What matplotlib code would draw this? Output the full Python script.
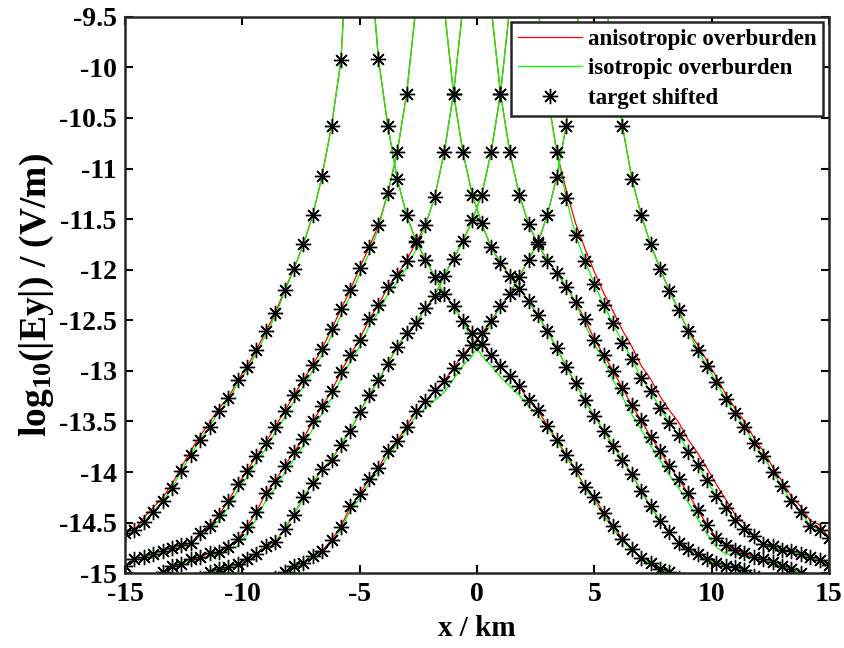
import numpy as np
import matplotlib
matplotlib.use("Agg")
import matplotlib.pyplot as plt

plt.rcParams['font.family'] = ['Liberation Serif', 'DejaVu Serif']
plt.rcParams['font.weight'] = 'bold'
plt.rcParams['mathtext.fontset'] = 'custom'
plt.rcParams['mathtext.rm'] = 'Liberation Serif:bold'
plt.rcParams['mathtext.it'] = 'Liberation Serif:bold'
plt.rcParams['mathtext.bf'] = 'Liberation Serif:bold'

nan = float('nan')

# ==== DATA (log10 |Ey|, sampled every 0.4 km) ====
x_km = [-15.0, -14.6, -14.2, -13.8, -13.4, -13.0, -12.6, -12.2, -11.8, -11.4,
        -11.0, -10.6, -10.2, -9.8, -9.4, -9.0, -8.6, -8.2, -7.8, -7.4,
        -7.0, -6.6, -6.2, -5.8, -5.4, -5.0, -4.6, -4.2, -3.8, -3.4,
        -3.0, -2.6, -2.2, -1.8, -1.4, -1.0, -0.6, -0.2, 0.2, 0.6,
        1.0, 1.4, 1.8, 2.2, 2.6, 3.0, 3.4, 3.8, 4.2, 4.6,
        5.0, 5.4, 5.8, 6.2, 6.6, 7.0, 7.4, 7.8, 8.2, 8.6,
        9.0, 9.4, 9.8, 10.2, 10.6, 11.0, 11.4, 11.8, 12.2, 12.6,
        13.0, 13.4, 13.8, 14.2, 14.6, 15.0]

# source at -5 km
star_1 = [-14.60, -14.57, -14.49, -14.39, -14.29, -14.16, -13.99, -13.83, -13.68, -13.55,
          -13.40, -13.27, -13.09, -12.96, -12.79, -12.61, -12.43, -12.20, -11.99, -11.75,
          -11.46, -11.07, -10.58, -9.93, -8.30, -8.00, -8.80, -9.92, -10.58, -11.10,
          -11.46, -11.72, -11.90, -12.07, -12.24, -12.36, -12.51, -12.63, -12.73, -12.84,
          -12.95, -13.05, -13.15, -13.29, -13.39, -13.54, -13.68, -13.83, -13.97, -14.15,
          -14.25, -14.40, -14.53, -14.66, -14.76, -14.85, -14.90, -14.96, -14.99, -15.05,
          nan, nan, nan, nan, nan, nan, nan, nan, nan, nan,
          nan, nan, nan, nan, nan, nan]
aniso_1 = [-14.60, -14.57, -14.45, -14.35, -14.25, -14.12, -13.95, -13.79, -13.64, -13.51,
           -13.37, -13.27, -13.09, -12.96, -12.79, -12.61, -12.43, -12.20, -11.99, -11.75,
           -11.46, -11.07, -10.58, -9.93, -8.30, -8.00, -8.80, -9.92, -10.58, -11.10,
           -11.46, -11.72, -11.90, -12.07, -12.24, -12.36, -12.51, -12.63, -12.73, -12.84,
           -12.95, -13.05, -13.15, -13.29, -13.39, -13.54, -13.68, -13.83, -13.97, -14.15,
           -14.25, -14.40, -14.53, -14.66, -14.76, -14.85, -14.90, -14.96, -14.99, -15.05,
           nan, nan, nan, nan, nan, nan, nan, nan, nan, nan,
           nan, nan, nan, nan, nan, nan]
iso_1 = [-14.60, -14.57, -14.49, -14.39, -14.29, -14.16, -13.99, -13.83, -13.68, -13.55,
         -13.40, -13.30, -13.12, -12.99, -12.82, -12.64, -12.46, -12.22, -11.99, -11.75,
         -11.46, -11.07, -10.58, -9.93, -8.30, -8.00, -8.80, -9.92, -10.58, -11.10,
         -11.46, -11.72, -11.90, -12.07, -12.24, -12.36, -12.51, -12.70, -12.85, -12.95,
         -13.06, -13.15, -13.24, -13.35, -13.44, -13.56, -13.69, -13.85, -13.99, -14.16,
         -14.28, -14.43, -14.56, -14.68, -14.77, -14.85, -14.90, -14.96, -14.99, -15.05,
         nan, nan, nan, nan, nan, nan, nan, nan, nan, nan,
         nan, nan, nan, nan, nan, nan]

# source at -2 km
star_2 = [-14.93, -14.86, -14.84, -14.81, -14.78, -14.75, -14.72, -14.70, -14.60, -14.53,
          -14.42, -14.29, -14.12, -13.99, -13.84, -13.71, -13.55, -13.40, -13.24, -13.09,
          -12.94, -12.78, -12.59, -12.39, -12.20, -11.98, -11.78, -11.56, -11.24, -10.84,
          -10.26, -9.40, -8.80, -8.80, -9.40, -10.26, -10.84, -11.26, -11.54, -11.78,
          -11.93, -12.06, -12.19, -12.31, -12.45, -12.61, -12.77, -12.96, -13.12, -13.29,
          -13.45, -13.59, -13.74, -13.88, -14.02, -14.19, -14.34, -14.48, -14.59, -14.70,
          -14.76, -14.81, -14.86, -14.90, -14.93, -14.94, -14.97, -15.03, nan, nan,
          nan, nan, nan, nan, nan, nan]
aniso_2 = list(star_2)
iso_2 = [-14.93, -14.86, -14.84, -14.81, -14.78, -14.75, -14.72, -14.70, -14.63, -14.56,
         -14.48, -14.35, -14.18, -14.05, -13.90, -13.77, -13.61, -13.46, -13.30, -13.15,
         -13.00, -12.84, -12.65, -12.45, -12.26, -12.04, -11.84, -11.59, -11.24, -10.84,
         -10.26, -9.40, -8.80, -8.80, -9.40, -10.26, -10.84, -11.26, -11.54, -11.78,
         -11.93, -12.06, -12.19, -12.31, -12.45, -12.61, -12.77, -12.96, -13.12, -13.29,
         -13.45, -13.59, -13.74, -13.88, -14.02, -14.19, -14.34, -14.48, -14.59, -14.70,
         -14.76, -14.81, -14.86, -14.90, -14.93, -14.94, -14.97, -15.03, nan, nan,
         nan, nan, nan, nan, nan, nan]

# source at 0 km
star_3 = [nan, nan, nan, -15.08, -14.99, -14.93, -14.91, -14.86, -14.84, -14.80,
          -14.79, -14.74, -14.66, -14.54, -14.39, -14.21, -14.09, -13.94, -13.80, -13.67,
          -13.50, -13.35, -13.20, -13.01, -12.84, -12.69, -12.49, -12.35, -12.17, -12.05,
          -11.91, -11.73, -11.56, -11.28, -10.84, -10.26, -9.40, -8.80, -8.80, -9.40,
          -10.26, -10.84, -11.26, -11.55, -11.75, -11.91, -12.03, -12.17, -12.32, -12.49,
          -12.69, -12.84, -13.00, -13.17, -13.34, -13.49, -13.65, -13.79, -13.94, -14.07,
          -14.21, -14.37, -14.52, -14.65, -14.72, -14.77, -14.80, -14.84, -14.86, -14.89,
          -14.93, -14.96, -15.00, -15.08, nan, nan]
aniso_3 = list(star_3)
iso_3 = [nan, nan, nan, -15.08, -14.99, -14.93, -14.91, -14.86, -14.87, -14.83,
         -14.82, -14.77, -14.73, -14.61, -14.46, -14.28, -14.16, -14.01, -13.87, -13.74,
         -13.57, -13.42, -13.27, -13.08, -12.91, -12.76, -12.56, -12.42, -12.24, -12.12,
         -11.98, -11.80, -11.56, -11.28, -10.84, -10.26, -9.40, -8.80, -8.80, -9.40,
         -10.26, -10.84, -11.26, -11.55, -11.75, -11.91, -12.03, -12.17, -12.32, -12.54,
         -12.74, -12.89, -13.09, -13.26, -13.43, -13.58, -13.74, -13.88, -14.03, -14.16,
         -14.30, -14.46, -14.61, -14.74, -14.81, -14.81, -14.84, -14.84, -14.86, -14.89,
         -14.93, -14.96, -15.00, -15.08, nan, nan]

# source at +2 km
star_4 = [nan, nan, nan, nan, nan, nan, nan, nan, -15.05, -14.99,
          -14.96, -14.94, -14.91, -14.86, -14.81, -14.73, -14.69, -14.56, -14.42, -14.25,
          -14.11, -13.97, -13.88, -13.73, -13.59, -13.41, -13.24, -13.09, -12.93, -12.76,
          -12.63, -12.53, -12.38, -12.26, -12.06, -11.89, -11.72, -11.51, -11.26, -10.84,
          -10.26, -9.40, -8.80, -8.80, -9.40, -10.26, -10.84, -11.29, -11.66, -11.91,
          -12.14, -12.35, -12.53, -12.72, -12.88, -13.07, -13.20, -13.37, -13.51, -13.63,
          -13.80, -13.93, -14.08, -14.24, -14.35, -14.47, -14.56, -14.63, -14.71, -14.73,
          -14.77, -14.78, -14.81, -14.84, -14.87, -14.92]
aniso_4 = [nan, nan, nan, nan, nan, nan, nan, nan, -15.05, -14.99,
           -14.96, -14.94, -14.91, -14.86, -14.81, -14.73, -14.69, -14.56, -14.42, -14.25,
           -14.11, -13.97, -13.88, -13.73, -13.59, -13.41, -13.24, -13.09, -12.93, -12.76,
           -12.63, -12.53, -12.38, -12.26, -12.06, -11.89, -11.72, -11.51, -11.26, -10.84,
           -10.26, -9.40, -8.80, -8.80, -9.40, -10.26, -10.84, -11.21, -11.54, -11.79,
           -12.02, -12.23, -12.41, -12.60, -12.76, -12.95, -13.08, -13.25, -13.39, -13.51,
           -13.68, -13.81, -13.96, -14.12, -14.27, -14.42, -14.51, -14.63, -14.71, -14.73,
           -14.77, -14.78, -14.81, -14.84, -14.87, -14.92]
iso_4 = list(star_4)

# source at +5 km
star_5 = [nan, nan, nan, nan, nan, nan, nan, nan, nan, nan,
          nan, nan, nan, nan, nan, nan, -15.05, -14.99, -14.93, -14.90,
          -14.83, -14.78, -14.67, -14.54, -14.34, -14.22, -14.07, -13.96, -13.79, -13.69,
          -13.55, -13.40, -13.30, -13.19, -13.10, -12.97, -12.84, -12.74, -12.63, -12.51,
          -12.36, -12.24, -12.07, -11.90, -11.73, -11.46, -11.08, -10.58, -9.92, -8.30,
          -8.00, -9.15, -9.93, -10.58, -11.10, -11.46, -11.75, -11.99, -12.21, -12.40,
          -12.61, -12.79, -12.95, -13.11, -13.28, -13.42, -13.55, -13.71, -13.84, -14.00,
          -14.14, -14.29, -14.39, -14.53, -14.57, -14.65]
aniso_5 = [nan, nan, nan, nan, nan, nan, nan, nan, nan, nan,
           nan, nan, nan, nan, nan, nan, -15.05, -14.99, -14.93, -14.90,
           -14.83, -14.78, -14.67, -14.54, -14.34, -14.22, -14.07, -13.96, -13.79, -13.69,
           -13.55, -13.40, -13.30, -13.19, -13.10, -12.97, -12.84, -12.74, -12.63, -12.51,
           -12.36, -12.24, -12.07, -11.90, -11.73, -11.46, -11.08, -10.58, -9.92, -8.30,
           -8.00, -9.15, -9.93, -10.58, -11.10, -11.46, -11.75, -11.99, -12.21, -12.40,
           -12.61, -12.74, -12.90, -13.06, -13.23, -13.37, -13.50, -13.66, -13.79, -13.95,
           -14.09, -14.24, -14.34, -14.48, -14.52, -14.65]
iso_5 = [nan, nan, nan, nan, nan, nan, nan, nan, nan, nan,
         nan, nan, nan, nan, nan, nan, -15.05, -14.99, -14.93, -14.90,
         -14.83, -14.79, -14.69, -14.57, -14.38, -14.26, -14.11, -13.99, -13.84, -13.72,
         -13.58, -13.45, -13.37, -13.29, -13.21, -13.08, -12.95, -12.85, -12.70, -12.53,
         -12.36, -12.24, -12.07, -11.90, -11.73, -11.46, -11.08, -10.58, -9.92, -8.30,
         -8.00, -9.15, -9.93, -10.58, -11.10, -11.46, -11.75, -11.99, -12.21, -12.40,
         -12.61, -12.79, -12.95, -13.11, -13.28, -13.42, -13.55, -13.71, -13.84, -14.00,
         -14.14, -14.29, -14.39, -14.53, -14.57, -14.65]

aniso = [aniso_1, aniso_2, aniso_3, aniso_4, aniso_5]
iso = [iso_1, iso_2, iso_3, iso_4, iso_5]
stars = [star_1, star_2, star_3, star_4, star_5]

x_ticks = [-15, -10, -5, 0, 5, 10, 15]
y_ticks = [-15, -14.5, -14, -13.5, -13, -12.5, -12, -11.5, -11, -10.5, -10, -9.5]

# ==== PLOT ====
fig = plt.figure(figsize=(8.45, 6.48), dpi=100)
ax = fig.add_axes([0.148, 0.1153, 0.833, 0.8589])

for k in range(5):
    ax.plot(x_km, aniso[k], color=(1, 0, 0), lw=0.9,
            label="anisotropic overburden" if k == 0 else None)
for k in range(5):
    ax.plot(x_km, iso[k], color=(0, 1, 0), lw=0.9,
            label="isotropic overburden" if k == 0 else None)
for k in range(5):
    ax.plot(x_km, stars[k], ls='none', marker=(8, 2, 0), ms=11, mew=1.0,
            color='black', label="target shifted" if k == 0 else None)

ax.set_xlim(-15, 15)
ax.set_ylim(-15, -9.5)
ax.set_xticks(x_ticks)
ax.set_yticks(y_ticks)
ax.set_xticklabels([str(v) for v in x_ticks])
ax.set_yticklabels([f"{v:g}" for v in y_ticks])
ax.tick_params(direction='in', top=True, right=True, length=6, width=1.5,
               labelsize=20, pad=6)
for s in ax.spines.values():
    s.set_linewidth(1.8)
    s.set_color('#262626')

ax.set_xlabel("x / km", fontsize=21, fontweight='bold', labelpad=6)
ax.set_ylabel("log$_{10}$(|Ey|) / (V/m)", fontsize=27, fontweight='bold', labelpad=2)

leg = ax.legend(loc='upper right', bbox_to_anchor=(0.992, 0.991), borderaxespad=0,
                fontsize=16.5, handlelength=2.8, handletextpad=0.25,
                labelspacing=0.38, borderpad=0.3, fancybox=False, framealpha=1,
                edgecolor='#262626', numpoints=1)
leg.get_frame().set_linewidth(1.8)

plt.savefig("out.png", dpi=100)
